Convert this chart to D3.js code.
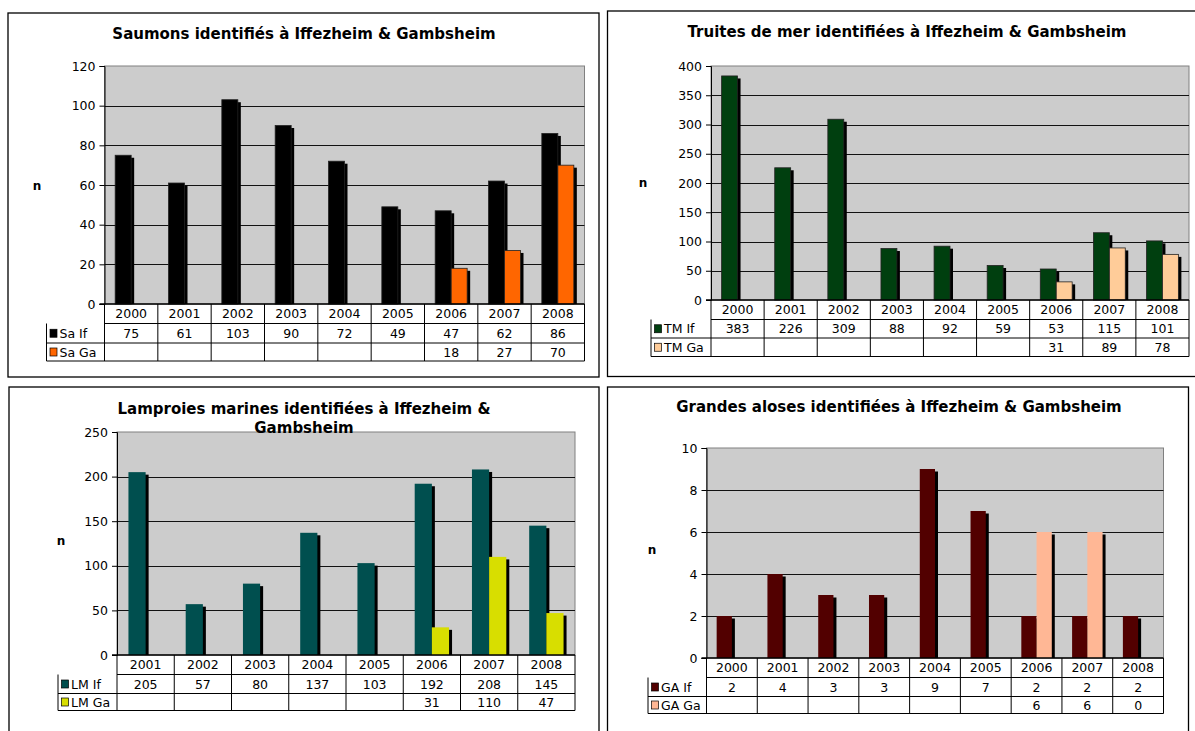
<!DOCTYPE html>
<html>
<head>
<meta charset="utf-8">
<script src="https://cdn.jsdelivr.net/npm/d3@7"></script>
<style>
  html, body { margin: 0; padding: 0; background: #fff; }
  svg { display: block; font-family: "DejaVu Sans", Verdana, sans-serif; }
</style>
</head>
<body>
<div id="chart"></div>
<script>
// categories
const years9 = ['2000', '2001', '2002', '2003', '2004', '2005', '2006', '2007', '2008'];
const years8 = ['2001', '2002', '2003', '2004', '2005', '2006', '2007', '2008'];

// saumons
const saIf = [75, 61, 103, 90, 72, 49, 47, 62, 86];
const saGa = [null, null, null, null, null, null, 18, 27, 70];
// truites de mer
const tmIf = [383, 226, 309, 88, 92, 59, 53, 115, 101];
const tmGa = [null, null, null, null, null, null, 31, 89, 78];
// lamproies marines
const lmIf = [205, 57, 80, 137, 103, 192, 208, 145];
const lmGa = [null, null, null, null, null, 31, 110, 47];
// grandes aloses
const gaIf = [2, 4, 3, 3, 9, 7, 2, 2, 2];
const gaGa = [null, null, null, null, null, null, 6, 6, 0];

// y tick labels
const ticksSa = [0, 20, 40, 60, 80, 100, 120];
const ticksTm = [0, 50, 100, 150, 200, 250, 300, 350, 400];
const ticksLm = [0, 50, 100, 150, 200, 250];
const ticksGa = [0, 2, 4, 6, 8, 10];

const svg = d3.select('#chart').append('svg')
    .attr('width', 1195)
    .attr('height', 731);

const panels = [
  {
    title: ['Saumons identifiés à Iffezheim & Gambsheim'], titleY: 34, titleX: 304,
    frame: [8, 13, 599, 377],
    plot: {l: 104.5, r: 584.5, t: 66, b: 304},
    rows: [323.5, 343, 361], legendX: 46.5, nPos: [37, 186],
    cats: years9, ticks: ticksSa,
    series: [
      {name: 'Sa If', values: saIf, color: '#000000'},
      {name: 'Sa Ga', values: saGa, color: '#ff6600'}
    ],
    stroke: true
  },
  {
    title: ['Truites de mer identifiées à Iffezheim & Gambsheim'], titleY: 32, titleX: 907,
    frame: [607.5, 11, 1215, 376.5],
    plot: {l: 711, r: 1189, t: 66, b: 300},
    rows: [319.5, 338, 356.5], legendX: 651, nPos: [643, 183],
    cats: years9, ticks: ticksTm,
    series: [
      {name: 'TM If', values: tmIf, color: '#003f0f'},
      {name: 'TM Ga', values: tmGa, color: '#ffcc99'}
    ],
    stroke: true
  },
  {
    title: ['Lamproies marines identifiées à Iffezheim &', 'Gambsheim'], titleY: 409, titleX: 304,
    frame: [9, 387, 599, 760],
    plot: {l: 117, r: 575, t: 432, b: 655},
    rows: [674.5, 693.5, 710.5], legendX: 58, nPos: [61, 541],
    cats: years8, ticks: ticksLm,
    series: [
      {name: 'LM If', values: lmIf, color: '#004f4f'},
      {name: 'LM Ga', values: lmGa, color: '#d8de00'}
    ],
    stroke: false
  },
  {
    title: ['Grandes aloses identifiées à Iffezheim & Gambsheim'], titleY: 407, titleX: 899,
    frame: [607.5, 387, 1188.5, 760],
    plot: {l: 706.5, r: 1163.5, t: 448, b: 658},
    rows: [677.5, 696.5, 713.5], legendX: 648, nPos: [652, 550],
    cats: years9, ticks: ticksGa,
    series: [
      {name: 'GA If', values: gaIf, color: '#520000'},
      {name: 'GA Ga', values: gaGa, color: '#ffb795'}
    ],
    stroke: false
  }
];

panels.forEach(drawPanel);

function drawPanel(p) {
  const g = svg.append('g');
  const [fx0, fy0, fx1, fy1] = p.frame;
  const {l, r, t, b} = p.plot;

  // cadre du graphique
  g.append('rect')
      .attr('x', fx0).attr('y', fy0)
      .attr('width', fx1 - fx0).attr('height', fy1 - fy0)
      .attr('fill', '#fff')
      .attr('stroke', '#000')
      .attr('stroke-width', 1.3);

  const x = d3.scaleBand().domain(p.cats).range([l, r]).padding(0);
  const y = d3.scaleLinear().domain([0, d3.max(p.ticks)]).range([b, t]);

  // fond gris
  g.append('rect')
      .attr('x', l).attr('y', t)
      .attr('width', r - l).attr('height', b - t)
      .attr('fill', '#cccccc')
      .attr('stroke', '#808080')
      .attr('stroke-width', 1);

  // grille
  g.selectAll('.grid')
    .data(p.ticks.filter(d => d > 0 && d < d3.max(p.ticks)))
    .enter().append('line')
      .attr('x1', l).attr('x2', r)
      .attr('y1', d => Math.round(y(d)) + 0.5)
      .attr('y2', d => Math.round(y(d)) + 0.5)
      .attr('stroke', '#111')
      .attr('stroke-width', 1);

  // barres
  const bw = x.bandwidth() * 0.3;
  p.series.forEach((s, si) => {
    const bars = g.append('g');
    p.cats.forEach((c, i) => {
      const v = s.values[i];
      if (v == null || v === 0) return;
      const cx = x(c) + x.bandwidth() / 2 + (si === 0 ? -bw : 0);
      // ombre
      bars.append('rect')
          .attr('x', cx + 3).attr('y', y(v) + 2.5)
          .attr('width', bw).attr('height', b - y(v) - 2.5)
          .attr('fill', '#000');
      bars.append('rect')
          .attr('x', cx).attr('y', y(v))
          .attr('width', bw).attr('height', b - y(v))
          .attr('fill', s.color)
          .attr('stroke', p.stroke ? '#222' : 'none')
          .attr('stroke-width', 0.8);
    });
  });

  // axe y
  const axis = d3.axisLeft(y).tickValues(p.ticks).tickSize(5).tickPadding(4);
  const ag = g.append('g')
      .attr('transform', `translate(${l},0)`)
      .call(axis);
  ag.select('.domain').attr('stroke', '#000');
  ag.selectAll('.tick line').attr('stroke', '#000');
  ag.selectAll('text')
      .attr('font-family', '"DejaVu Sans", Verdana, sans-serif')
      .attr('font-size', 12.5)
      .attr('fill', '#000');

  // tableau de données
  const [r0, r1, r2] = p.rows;
  const tl = g.append('g').attr('stroke', '#000').attr('stroke-width', 1);
  tl.append('line').attr('x1', l - 5).attr('x2', r).attr('y1', b).attr('y2', b).attr('stroke-width', 1.5);
  tl.append('line').attr('x1', l).attr('x2', r).attr('y1', r0).attr('y2', r0);
  [r1, r2].forEach(yy => {
    tl.append('line').attr('x1', p.legendX).attr('x2', r).attr('y1', yy).attr('y2', yy);
  });
  tl.append('line').attr('x1', p.legendX).attr('x2', p.legendX).attr('y1', r0).attr('y2', r2);
  p.cats.forEach(c => {
    tl.append('line').attr('x1', x(c)).attr('x2', x(c)).attr('y1', b).attr('y2', r2);
  });
  tl.append('line').attr('x1', r).attr('x2', r).attr('y1', b).attr('y2', r2);

  const txt = g.append('g')
      .attr('font-size', 12.5)
      .attr('fill', '#000');
  txt.selectAll('.yr').data(p.cats).enter().append('text')
      .attr('x', d => x(d) + x.bandwidth() / 2)
      .attr('y', (b + r0) / 2)
      .attr('dy', '0.36em')
      .attr('text-anchor', 'middle')
      .text(d => d);

  const rowMid = [(r0 + r1) / 2, (r1 + r2) / 2];
  p.series.forEach((s, si) => {
    const ym = rowMid[si];
    txt.append('rect')
        .attr('x', p.legendX + 3.5).attr('y', ym - 4)
        .attr('width', 7).attr('height', 8)
        .attr('fill', s.color)
        .attr('stroke', '#000')
        .attr('stroke-width', 0.7);
    txt.append('text')
        .attr('x', p.legendX + 13)
        .attr('y', ym)
        .attr('dy', '0.36em')
        .text(s.name);
    p.cats.forEach((c, i) => {
      const v = s.values[i];
      if (v == null) return;
      txt.append('text')
          .attr('x', x(c) + x.bandwidth() / 2)
          .attr('y', ym)
          .attr('dy', '0.36em')
          .attr('text-anchor', 'middle')
          .text(v);
    });
  });

  // titre
  p.title.forEach((line, k) => {
    g.append('text')
        .attr('x', p.titleX)
        .attr('y', p.titleY + k * 18.5)
        .attr('dy', '0.36em')
        .attr('text-anchor', 'middle')
        .attr('font-size', 15)
        .attr('font-weight', 'bold')
        .text(line);
  });

  // libellé axe y
  g.append('text')
      .attr('x', p.nPos[0])
      .attr('y', p.nPos[1])
      .attr('dy', '0.36em')
      .attr('text-anchor', 'middle')
      .attr('font-size', 12)
      .attr('font-weight', 'bold')
      .text('n');
}
</script>
</body>
</html>
